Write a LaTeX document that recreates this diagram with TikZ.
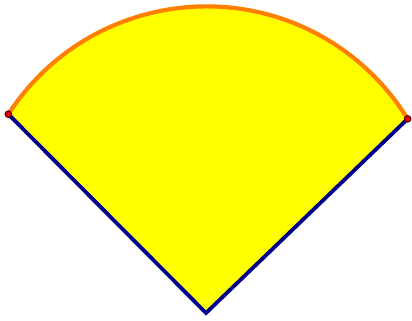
\documentclass[tikz,border=0pt]{standalone}
\usepackage{xcolor}
\usepackage{tikz}
\usetikzlibrary{calc}

\definecolor{arcorange}{RGB}{255,128,0}
\definecolor{sidenavy}{RGB}{0,0,140}
\definecolor{dotred}{RGB}{230,0,0}
\definecolor{fillyellow}{RGB}{255,255,0}

\begin{document}
\begin{tikzpicture}[x=1pt, y=1pt]
    \useasboundingbox (0,0) rectangle (412,321);

    % Coordinates
    \coordinate (A) at (206,8);
    \coordinate (C) at (206.5,78.6);
    \coordinate (L) at ($(C)+(147.1:236)$);
    \coordinate (R) at ($(C)+(31.55:236)$);

    % Sector
    \fill[fillyellow] (A) -- (L) arc[start angle=147.1, end angle=31.55, radius=236] -- cycle;

    % Sides and arc
    \draw[line width=4.2pt, arcorange] (L) arc[start angle=147.1, end angle=31.55, radius=236];
    \draw[line width=3.8pt, sidenavy, line join=miter] (L) -- (A) -- (R);

    % End points
    \filldraw[fill=dotred, draw=black!70!red, line width=1pt] (L) circle (3.3);
    \filldraw[fill=dotred, draw=black!70!red, line width=1pt] (R) circle (3.3);
\end{tikzpicture}
\end{document}
